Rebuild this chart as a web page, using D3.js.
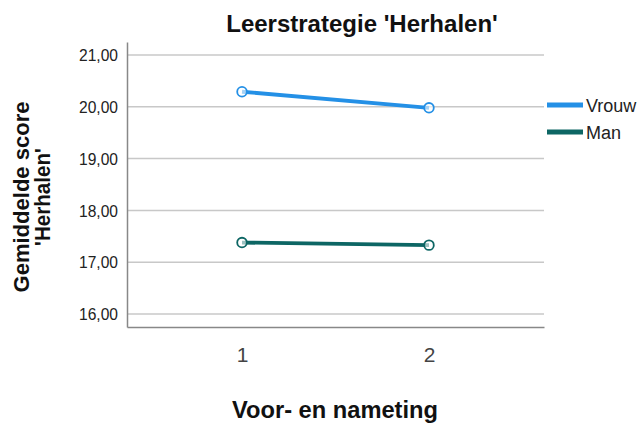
<!DOCTYPE html>
<html><head><meta charset="utf-8">
<script src="https://cdn.jsdelivr.net/npm/d3@7"></script>
<style>body{margin:0;background:#fff;} text{font-family:"Liberation Sans",Arial,sans-serif;}</style>
</head><body><svg id="c" width="643" height="426"></svg>
<script>
const categories = ["1", "2"];
const seriesNames = ["Vrouw", "Man"];
const vrouw = [20.29, 19.98];
const man = [17.38, 17.33];
const yTicks = [16, 17, 18, 19, 20, 21];
const colors = ["#2490e6", "#0d6664"];

const svg = d3.select("#c");
const pL = 127, pR = 544, pT = 42, pB = 327;
const x = d3.scalePoint().domain(categories).range([pL, pR]).padding(0.615);
const y = d3.scaleLinear().domain([15.75, 21.25]).range([pB, pT]);

// grid
svg.append("g").selectAll("line").data(yTicks).join("line")
  .attr("x1", pL).attr("x2", pR)
  .attr("y1", d => y(d)).attr("y2", d => y(d))
  .attr("stroke", "#c8c8c8").attr("stroke-width", 1.5);

// y axis
const yAxis = svg.append("g").attr("transform", `translate(${pL},0)`)
  .call(d3.axisLeft(y).tickValues(yTicks).tickSize(0).tickPadding(9)
    .tickFormat(d => d3.format(".2f")(d).replace(".", ",")));
yAxis.select(".domain").attr("stroke", "#888").attr("stroke-width", 1.5);
yAxis.selectAll("text").attr("font-size", 16).attr("fill", "#222").attr("dy", "0.36em")
  .attr("textLength", 39).attr("lengthAdjust", "spacingAndGlyphs")
  .style("font-family", "Liberation Sans, Arial, sans-serif");

// x axis
const xAxis = svg.append("g").attr("transform", `translate(0,${pB})`)
  .call(d3.axisBottom(x).tickSize(0));
xAxis.select(".domain").attr("stroke", "#888").attr("stroke-width", 1.5);
xAxis.selectAll("text").attr("font-size", 21).attr("fill", "#444")
  .attr("y", 35).attr("dy", 0)
  .style("font-family", "Liberation Sans, Arial, sans-serif");

// series
const series = [vrouw, man];
series.forEach((vals, i) => {
  const pts = categories.map((c, j) => [x(c), y(vals[j])]);
  svg.append("path").attr("d", d3.line()(pts))
    .attr("fill", "none").attr("stroke", colors[i]).attr("stroke-width", 3.8);
  svg.append("g").selectAll("circle").data(pts).join("circle")
    .attr("cx", d => d[0]).attr("cy", d => d[1]).attr("r", 4.8)
    .attr("fill", "#fff").attr("fill-opacity", 0.6)
    .attr("stroke", colors[i]).attr("stroke-width", 1.8);
});

// title
svg.append("text").attr("x", 362).attr("y", 32).attr("text-anchor", "middle")
  .attr("font-size", 24).attr("font-weight", "bold").attr("fill", "#111")
  .text("Leerstrategie 'Herhalen'");

// x label
svg.append("text").attr("x", 335).attr("y", 418).attr("text-anchor", "middle")
  .attr("font-size", 24).attr("font-weight", "bold").attr("fill", "#111")
  .attr("textLength", 206).attr("lengthAdjust", "spacingAndGlyphs")
  .text("Voor- en nameting");

// y label
const yl = svg.append("g").attr("transform", "translate(29,197) rotate(-90)");
yl.append("text").attr("x", 0).attr("y", 0).attr("text-anchor", "middle")
  .attr("font-size", 22).attr("font-weight", "bold").attr("fill", "#111")
  .attr("textLength", 191).attr("lengthAdjust", "spacingAndGlyphs")
  .text("Gemiddelde score");
yl.append("text").attr("x", 0).attr("y", 21).attr("text-anchor", "middle")
  .attr("font-size", 22).attr("font-weight", "bold").attr("fill", "#111")
  .attr("textLength", 98).attr("lengthAdjust", "spacingAndGlyphs")
  .text("'Herhalen'");

// legend
const lg = svg.append("g").attr("transform", "translate(547,105)");
seriesNames.forEach((n, i) => {
  lg.append("line").attr("x1", 0).attr("x2", 36).attr("y1", i * 27).attr("y2", i * 27)
    .attr("stroke", colors[i]).attr("stroke-width", 5);
  lg.append("text").attr("x", 39).attr("y", i * 27 + 7).attr("font-size", 18).attr("fill", "#222").text(n);
});
</script></body></html>
